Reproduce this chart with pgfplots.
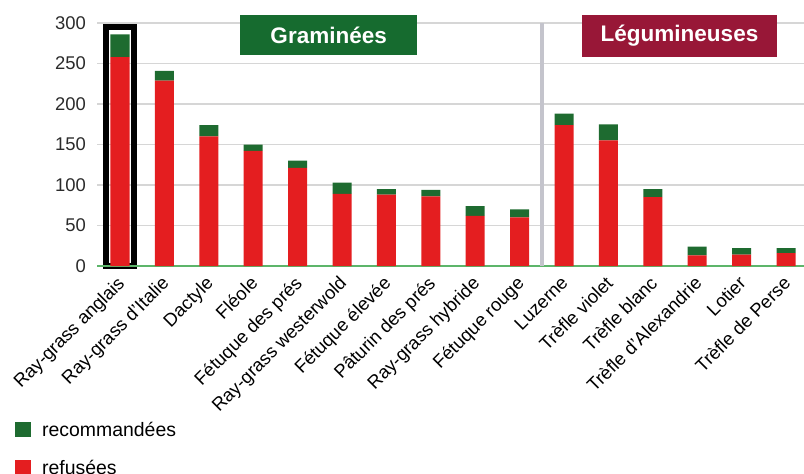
\documentclass[border=0pt]{standalone}
\usepackage{pgfplots}
\usepackage{pgfplotstable}
\pgfplotsset{compat=1.18}
\usepackage{fontspec}
\setmainfont{Liberation Sans}
\definecolor{redbar}{HTML}{E41E20}
\definecolor{greenbar}{HTML}{1E6B30}
\definecolor{grambox}{HTML}{166B2F}
\definecolor{legbox}{HTML}{981737}
\definecolor{axisgreen}{HTML}{5DB56A}
\definecolor{gridgray}{HTML}{D6D6D6}
\definecolor{sepgray}{HTML}{C4C4CC}
\definecolor{ticktext}{HTML}{2B2B2B}

\pgfplotstableread{
x red green
0 258 28
1 229 12
2 160 14
3 142 8
4 121 9
5 89 14
6 88 7
7 86 8
8 62 12
9 60 10
10 174 14
11 155 20
12 85 10
13 13 11
14 14 8
15 16 6
}\datatable

\begin{document}
\begin{tikzpicture}
\begin{axis}[
  at={(97bp,-266bp)}, anchor=south west,
  scale only axis, width=707bp, height=243bp,
  xmin=-0.518, xmax=15.405, ymin=0, ymax=300,
  axis line style={draw=none},
  major tick length=0pt,
  ytick={0,50,...,300},
  ymajorgrids, grid style={gridgray, line width=1.5bp},
  xtick={0,...,15},
  xticklabels={Ray-grass anglais, Ray-grass d'Italie, Dactyle, Fléole, Fétuque des prés, Ray-grass westerwold, Fétuque élevée, Pâturin des prés, Ray-grass hybride, Fétuque rouge, Luzerne, Trèfle violet, Trèfle blanc, Trèfle d'Alexandrie, Lotier, Trèfle de Perse},
  /pgf/number format/assume math mode=true,
  tick label style={font=\fontsize{18.5}{20}\selectfont},
  yticklabel style={text=ticktext, inner sep=0pt, xshift=-11bp},
  xticklabel style={xshift=-4bp, yshift=-6bp, rotate=45, anchor=north east, inner sep=2bp, text=black},
  ybar stacked, bar width=19bp,
  clip=false,
  reverse legend,
  legend cell align=left,
  legend style={at={(axis description cs:-0.116,-0.640)}, anchor=north west,
    draw=none, fill=none, inner sep=0pt, row sep=23bp,
    font=\fontsize{19.5}{21}\selectfont,
    nodes={inner sep=0pt, text depth=0pt}},
  legend image code/.code={\fill[#1, draw=none] (0bp,-7.5bp) rectangle (16bp,7.5bp);},
]
\addplot[fill=redbar, draw=none] table[x=x, y=red] {\datatable};
\addlegendentry{\hspace{11bp}refusées}
\addplot[fill=greenbar, draw=none] table[x=x, y=green] {\datatable};
\addlegendentry{\hspace{11bp}recommandées}

\draw[sepgray, line width=4bp] (axis cs:9.5,0) -- (axis cs:9.5,300);
\draw[axisgreen, line width=2bp] (axis cs:-0.518,0) -- (axis cs:15.405,0);
\draw[black, line width=6bp] (axis cs:-0.315,0) rectangle (axis cs:0.315,295);
\node[fill=grambox, text=white, font=\bfseries\fontsize{22.6}{24}\selectfont,
  minimum width=177bp, minimum height=40bp, inner sep=0pt]
  at (axis cs:4.70,285.2) {Graminées};
\node[fill=legbox, text=white, font=\bfseries\fontsize{22.6}{24}\selectfont,
  minimum width=195bp, minimum height=42bp, inner sep=0pt]
  at (axis cs:12.60,284) {Légumineuses};
\end{axis}
\pgfresetboundingbox
\path[use as bounding box] (0bp,0bp) rectangle (804bp,-474bp);
\end{tikzpicture}
\end{document}
